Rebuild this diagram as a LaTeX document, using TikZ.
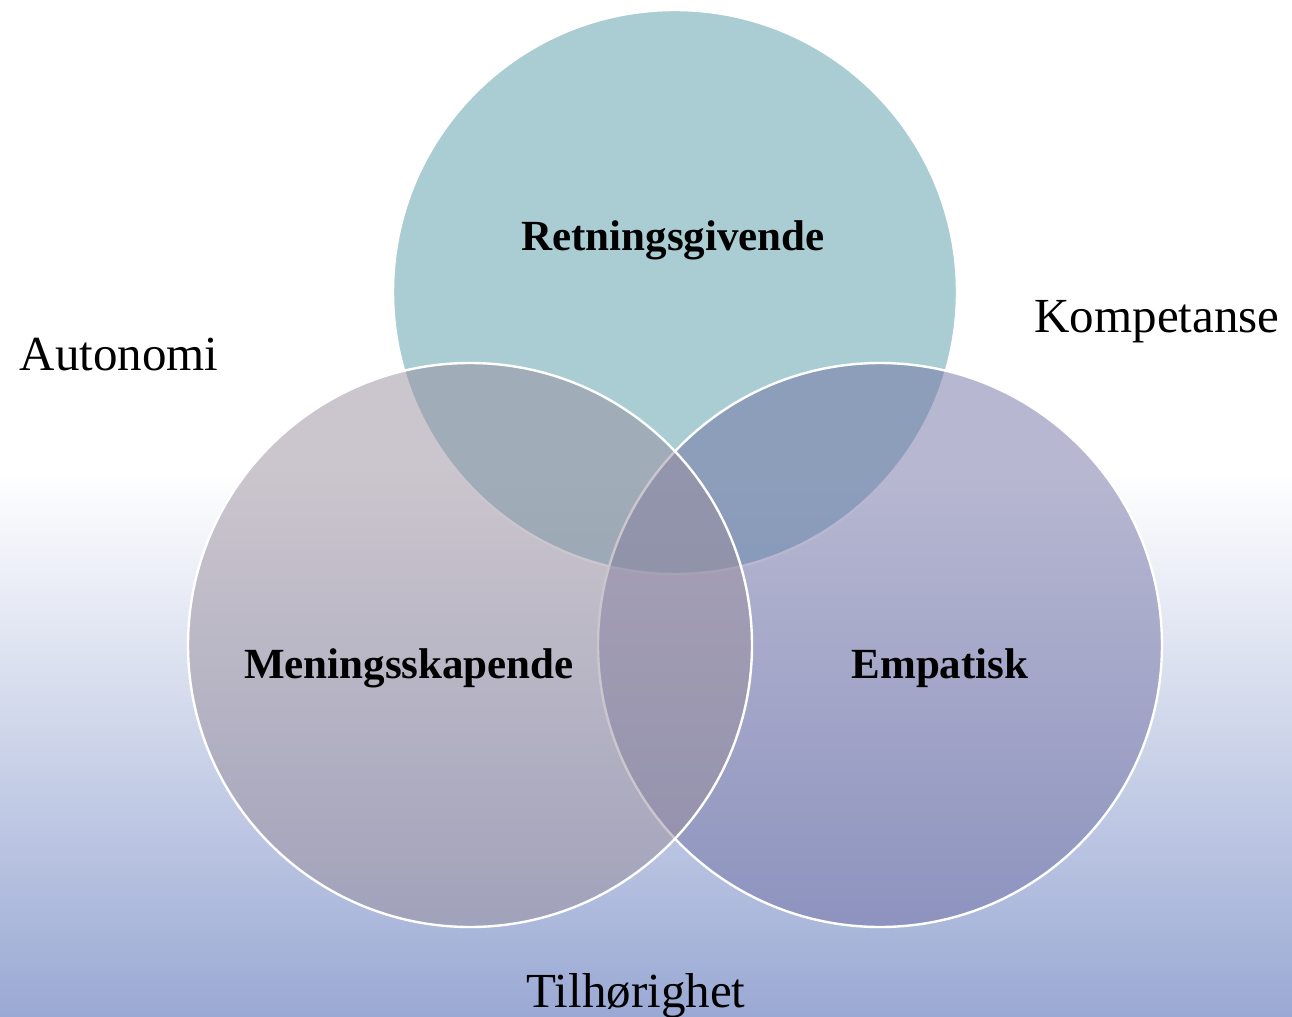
\documentclass[tikz,border=0pt]{standalone}
\usepackage{fontspec}
\setmainfont{Liberation Serif}
\usepackage{xcolor}

\definecolor{topfill}{RGB}{87,157,171}
\definecolor{leftfill}{RGB}{152,141,156}
\definecolor{rightfill}{RGB}{113,113,164}
\definecolor{bgblue}{RGB}{154,169,212}

\tikzset{
  ring/.style={draw=white, line width=1.2pt, fill opacity=0.5},
  inner label/.style={font=\fontsize{21.5}{25}\selectfont\bfseries, anchor=base, inner sep=0pt},
  outer label/.style={font=\fontsize{24.5}{28}\selectfont, anchor=base, inner sep=0pt}
}

\begin{document}
\begin{tikzpicture}[x=0.5pt,y=0.5pt,yscale=-1,xscale=1]
	\useasboundingbox (0,0) rectangle (1292,1017);
	
	%Background
	\fill[white] (0,0) rectangle (1292,1017);
	\shade[top color=white, bottom color=bgblue] (0,470) rectangle (1292,1017);
	
	%Shape: Circle (top)
	\draw[ring, fill=topfill] (675,292) circle (282);
	%Shape: Circle (right)
	\draw[ring, fill=rightfill] (880,645) circle (282);
	%Shape: Circle (left)
	\draw[ring, fill=leftfill] (470,645) circle (282);
	
	% Text Node
	\node[inner label] (retning) at (673,250) {Retningsgivende};
	% Text Node
	\node[inner label] (mening) at (409,678) {Meningsskapende};
	% Text Node
	\node[inner label] (empatisk) at (940,678) {Empatisk};
	% Text Node
	\node[outer label] (autonomi) at (119,370) {Autonomi};
	% Text Node
	\node[outer label] (kompetanse) at (1157,332) {Kompetanse};
	% Text Node
	\node[outer label] (tilhorighet) at (636,1007) {Tilhørighet};
	
\end{tikzpicture}
\end{document}
